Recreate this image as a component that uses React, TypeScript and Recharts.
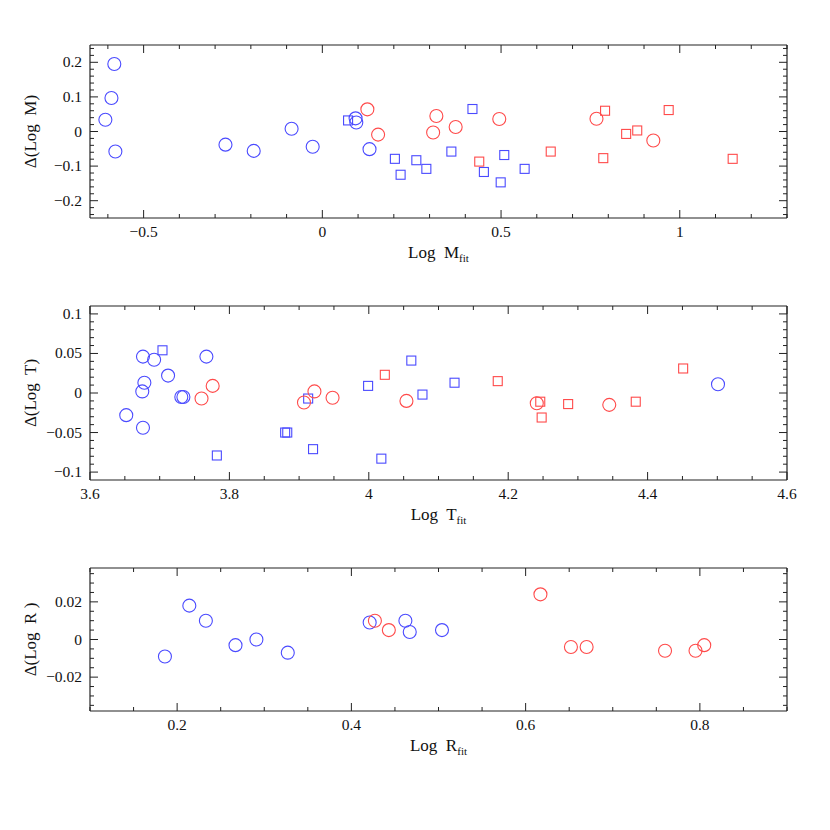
import React from 'react';
import { ScatterChart, Scatter, XAxis, YAxis } from 'recharts';

// panel 1: Delta(Log M) vs Log M_fit
const mBlueCircles = [
    [-0.582, 0.195], [-0.59, 0.097], [-0.607, 0.034], [-0.579, -0.058],
    [-0.271, -0.038], [-0.192, -0.056], [-0.086, 0.008], [-0.027, -0.044],
    [0.093, 0.038], [0.095, 0.026], [0.132, -0.051],
];
const mBlueSquares = [
    [0.072, 0.032], [0.203, -0.079], [0.219, -0.125], [0.263, -0.083],
    [0.291, -0.108], [0.361, -0.058], [0.42, 0.065], [0.452, -0.117],
    [0.499, -0.147], [0.509, -0.068], [0.566, -0.108],
];
const mRedCircles = [
    [0.126, 0.064], [0.156, -0.009], [0.319, 0.045], [0.31, -0.003],
    [0.373, 0.013], [0.495, 0.036], [0.767, 0.037], [0.926, -0.026],
];
const mRedSquares = [
    [0.439, -0.087], [0.639, -0.058], [0.791, 0.06], [0.786, -0.077],
    [0.85, -0.007], [0.881, 0.003], [0.969, 0.062], [1.148, -0.079],
];

// panel 2: Delta(Log T) vs Log T_fit
const tBlueCircles = [
    [3.676, 0.046], [3.692, 0.042], [3.712, 0.022], [3.678, 0.013],
    [3.675, 0.002], [3.652, -0.028], [3.676, -0.044], [3.731, -0.005],
    [3.734, -0.005], [3.767, 0.046], [4.501, 0.011],
];
const tBlueSquares = [
    [3.704, 0.054], [3.782, -0.079], [3.88, -0.05], [3.883, -0.05],
    [3.913, -0.007], [3.92, -0.071], [3.999, 0.009], [4.018, -0.083],
    [4.061, 0.041], [4.077, -0.002], [4.123, 0.013],
];
const tRedCircles = [
    [3.76, -0.007], [3.776, 0.009], [3.907, -0.012], [3.922, 0.002],
    [3.948, -0.006], [4.054, -0.01], [4.241, -0.013], [4.345, -0.015],
];
const tRedSquares = [
    [4.023, 0.023], [4.185, 0.015], [4.246, -0.011], [4.248, -0.031],
    [4.286, -0.014], [4.383, -0.011], [4.451, 0.031],
];

// panel 3: Delta(Log R) vs Log R_fit
const rBlueCircles = [
    [0.186, -0.009], [0.214, 0.018], [0.233, 0.01], [0.267, -0.003],
    [0.291, 0.0], [0.327, -0.007], [0.421, 0.009], [0.462, 0.01],
    [0.467, 0.004], [0.504, 0.005],
];
const rRedCircles = [
    [0.427, 0.01], [0.443, 0.005], [0.617, 0.024], [0.652, -0.004],
    [0.67, -0.004], [0.76, -0.006], [0.795, -0.006], [0.805, -0.003],
];

const BLUE = '#4a4aff';
const RED = '#ff4a4a';
const FRAME = '#222';
const FONT = '"Liberation Serif", "Times New Roman", serif';

const toPoints = (arr: number[][]) => arr.map(([x, y]) => ({ x, y }));

const range = (lo: number, hi: number, step: number) => {
    const out: number[] = [];
    const n = Math.round((hi - lo) / step);
    for (let i = 0; i <= n; i++) out.push(Number((lo + i * step).toFixed(6)));
    return out;
};

const fmt = (v: number) => String(Number(v.toFixed(4))).replace('-', '\u2212');

const tickText = { fontSize: 15.5, fontFamily: FONT, fill: '#111' };

const makeTick =
    (side: 'bottom' | 'left' | 'top' | 'right', majorStep: number) =>
    (props: any) => {
        const { x, y, payload } = props;
        const v = payload.value;
        const q = v / majorStep;
        const major = Math.abs(q - Math.round(q)) < 1e-6;
        const len = major ? 8 : 4;
        let line;
        let label = null;
        if (side === 'bottom') {
            line = <line x1={x} y1={y} x2={x} y2={y - len} stroke={FRAME} />;
            if (major)
                label = (
                    <text x={x} y={y + 19} textAnchor="middle" style={tickText}>
                        {fmt(v)}
                    </text>
                );
        } else if (side === 'left') {
            line = <line x1={x} y1={y} x2={x + len} y2={y} stroke={FRAME} />;
            if (major)
                label = (
                    <text x={x - 8} y={y + 5} textAnchor="end" style={tickText}>
                        {fmt(v)}
                    </text>
                );
        } else if (side === 'top') {
            line = <line x1={x} y1={y} x2={x} y2={y + len} stroke={FRAME} />;
        } else {
            line = <line x1={x} y1={y} x2={x - len} y2={y} stroke={FRAME} />;
        }
        return (
            <g>
                {line}
                {label}
            </g>
        );
    };

const XLabel = ({ viewBox, name }: any) => {
    const cx = viewBox.x + viewBox.width / 2;
    return (
        <text x={cx} y={viewBox.y + 40} textAnchor="middle" style={{ whiteSpace: 'pre', fontFamily: FONT, fontSize: 17, fill: '#111' }}>
            <tspan>{`Log  ${name}`}</tspan>
            <tspan dy={4} style={{ fontSize: 11 }}>fit</tspan>
        </text>
    );
};

const YLabel = ({ viewBox, text }: any) => {
    const cy = viewBox.y + viewBox.height / 2;
    const x = 30;
    return (
        <text
            x={x}
            y={cy}
            transform={`rotate(-90 ${x} ${cy})`}
            textAnchor="middle"
            dominantBaseline="central"
            style={{ whiteSpace: 'pre', fontFamily: FONT, fontSize: 17, fill: '#111' }}
        >
            {text}
        </text>
    );
};

const circleShape = (color: string) => (p: any) =>
    <circle cx={p.cx} cy={p.cy} r={6.5} fill="none" stroke={color} strokeWidth={1.1} />;
const squareShape = (color: string) => (p: any) =>
    <rect x={p.cx - 4.5} y={p.cy - 4.5} width={9} height={9} fill="none" stroke={color} strokeWidth={1.1} />;

type PanelProps = {
    top: number;
    height: number;
    plotTop: number;
    plotBottom: number;
    xDomain: [number, number];
    yDomain: [number, number];
    xTicks: number[];
    yTicks: number[];
    xMajor: number;
    yMajor: number;
    xName: string;
    yText: string;
    series: { data: number[][]; shape: 'circle' | 'square'; color: string }[];
};

const Panel = ({ top, height, plotTop, plotBottom, xDomain, yDomain, xTicks, yTicks, xMajor, yMajor, xName, yText, series }: PanelProps) => {
    const axisLine = { stroke: FRAME, strokeWidth: 1.2 };
    return (
        <div style={{ position: 'absolute', left: 0, top, width: 830, height }}>
            <ScatterChart width={830} height={height} margin={{ top: plotTop - top - 1, right: 42, bottom: 0, left: 30 }}>
                <XAxis
                    type="number"
                    dataKey="x"
                    domain={xDomain}
                    ticks={xTicks}
                    interval={0}
                    allowDataOverflow
                    height={top + height - plotBottom}
                    tickSize={0}
                    tickMargin={0}
                    axisLine={axisLine}
                    tick={makeTick('bottom', xMajor)}
                    label={<XLabel name={xName} />}
                />
                <XAxis
                    xAxisId="top"
                    orientation="top"
                    type="number"
                    dataKey="x"
                    domain={xDomain}
                    ticks={xTicks}
                    interval={0}
                    allowDataOverflow
                    height={1}
                    tickSize={0}
                    tickMargin={0}
                    axisLine={axisLine}
                    tick={makeTick('top', xMajor)}
                />
                <YAxis
                    type="number"
                    dataKey="y"
                    domain={yDomain}
                    ticks={yTicks}
                    interval={0}
                    allowDataOverflow
                    width={60}
                    tickSize={0}
                    tickMargin={0}
                    axisLine={axisLine}
                    tick={makeTick('left', yMajor)}
                    label={<YLabel text={yText} />}
                />
                <YAxis
                    yAxisId="right"
                    orientation="right"
                    type="number"
                    dataKey="y"
                    domain={yDomain}
                    ticks={yTicks}
                    interval={0}
                    allowDataOverflow
                    width={1}
                    tickSize={0}
                    tickMargin={0}
                    axisLine={axisLine}
                    tick={makeTick('right', yMajor)}
                />
                <Scatter xAxisId="top" yAxisId="right" data={[]} isAnimationActive={false} />
                {series.map((s, i) => (
                    <Scatter
                        key={i}
                        data={toPoints(s.data)}
                        isAnimationActive={false}
                        shape={s.shape === 'circle' ? circleShape(s.color) : squareShape(s.color)}
                    />
                ))}
            </ScatterChart>
        </div>
    );
};

export default function App() {
    return (
        <div style={{ position: 'absolute', left: 0, top: 0, width: 830, height: 830, background: '#fff' }}>
            <Panel
                top={0}
                height={270}
                plotTop={45}
                plotBottom={218}
                xDomain={[-0.65, 1.3]}
                yDomain={[-0.25, 0.25]}
                xTicks={range(-0.6, 1.3, 0.1)}
                yTicks={range(-0.24, 0.24, 0.02)}
                xMajor={0.5}
                yMajor={0.1}
                xName="M"
                yText={'\u0394(Log  M)'}
                series={[
                    { data: mBlueCircles, shape: 'circle', color: BLUE },
                    { data: mBlueSquares, shape: 'square', color: BLUE },
                    { data: mRedCircles, shape: 'circle', color: RED },
                    { data: mRedSquares, shape: 'square', color: RED },
                ]}
            />
            <Panel
                top={270}
                height={270}
                plotTop={306}
                plotBottom={480}
                xDomain={[3.6, 4.6]}
                yDomain={[-0.11, 0.11]}
                xTicks={range(3.6, 4.6, 0.05)}
                yTicks={range(-0.1, 0.1, 0.01)}
                xMajor={0.2}
                yMajor={0.05}
                xName="T"
                yText={'\u0394(Log  T)'}
                series={[
                    { data: tBlueCircles, shape: 'circle', color: BLUE },
                    { data: tBlueSquares, shape: 'square', color: BLUE },
                    { data: tRedCircles, shape: 'circle', color: RED },
                    { data: tRedSquares, shape: 'square', color: RED },
                ]}
            />
            <Panel
                top={540}
                height={290}
                plotTop={568}
                plotBottom={711}
                xDomain={[0.1, 0.9]}
                yDomain={[-0.038, 0.038]}
                xTicks={range(0.1, 0.9, 0.05)}
                yTicks={range(-0.035, 0.035, 0.005)}
                xMajor={0.2}
                yMajor={0.02}
                xName="R"
                yText={'\u0394(Log  R )'}
                series={[
                    { data: rBlueCircles, shape: 'circle', color: BLUE },
                    { data: rRedCircles, shape: 'circle', color: RED },
                ]}
            />
        </div>
    );
}
